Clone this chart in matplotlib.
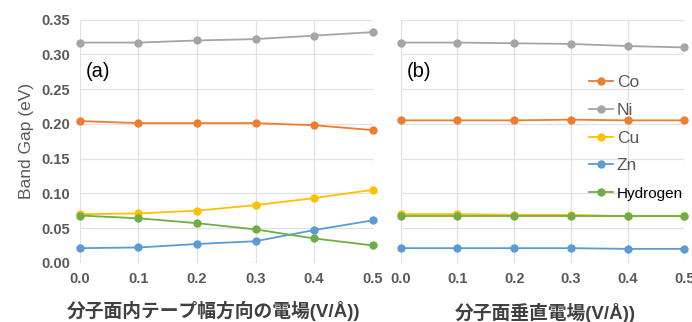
import numpy as np
import matplotlib
matplotlib.use("Agg")
import matplotlib.pyplot as plt

plt.rcParams['font.family'] = ['Liberation Sans', 'Noto Sans CJK JP']

field = [0.0, 0.1, 0.2, 0.3, 0.4, 0.5]
names = ["Co", "Ni", "Cu", "Zn", "Hydrogen"]
colors = ["#ED7D31", "#A5A5A5", "#FFC000", "#5B9BD5", "#70AD47"]

# (a) 分子面内テープ幅方向の電場
a_co = [0.204, 0.201, 0.201, 0.201, 0.198, 0.191]
a_ni = [0.317, 0.317, 0.320, 0.322, 0.327, 0.332]
a_cu = [0.070, 0.071, 0.075, 0.083, 0.093, 0.105]
a_zn = [0.021, 0.022, 0.027, 0.031, 0.047, 0.061]
a_h = [0.068, 0.064, 0.057, 0.048, 0.035, 0.025]

# (b) 分子面垂直電場
b_co = [0.205, 0.205, 0.205, 0.206, 0.205, 0.205]
b_ni = [0.317, 0.317, 0.316, 0.315, 0.312, 0.310]
b_cu = [0.070, 0.070, 0.069, 0.069, 0.067, 0.067]
b_zn = [0.021, 0.021, 0.021, 0.021, 0.020, 0.020]
b_h = [0.068, 0.068, 0.068, 0.068, 0.068, 0.068]

panel_a = [a_co, a_ni, a_cu, a_zn, a_h]
panel_b = [b_co, b_ni, b_cu, b_zn, b_h]

fig = plt.figure(figsize=(6.92, 3.22), dpi=100)
ax1 = fig.add_axes([0.1156, 0.184, 0.4227, 0.755])
ax2 = fig.add_axes([0.579, 0.184, 0.410, 0.755])

tick_color = "#595959"
for ax, data in [(ax1, panel_a), (ax2, panel_b)]:
    for name, col, ys in zip(names, colors, data):
        ax.plot(field, ys, "-o", color=col, lw=1.3, ms=5, label=name, clip_on=False, zorder=3)
    ax.set_xlim(0, 0.5)
    ax.set_ylim(0, 0.35)
    ax.set_xticks(np.arange(0, 0.51, 0.1))
    ax.set_yticks(np.arange(0, 0.351, 0.05))
    ax.grid(True, color="#e2e2e2", lw=0.9)
    ax.set_axisbelow(True)
    for s in ax.spines.values():
        s.set_visible(False)
    ax.tick_params(length=0, pad=7, colors=tick_color, labelsize=10.5)
    ax.set_xticklabels([f"{v:.1f}" for v in field], fontweight="bold")

ax1.set_yticklabels([f"{v:.2f}" for v in np.arange(0, 0.351, 0.05)], fontweight="bold")
ax2.set_yticklabels([])
ax1.set_ylabel("Band Gap (eV)", color=tick_color, fontsize=12.5, labelpad=5)

ax1.set_xlabel("分子面内テープ幅方向の電場(V/Å))", fontsize=13.5, fontweight="bold",
               color="#404040")
ax2.set_xlabel("分子面垂直電場(V/Å))", fontsize=13.5, fontweight="bold",
               color="#404040")
ax1.xaxis.set_label_coords(0.455, -0.155)
ax2.xaxis.set_label_coords(0.509, -0.165)

ax1.text(0.01, 0.267, "(a)", fontsize=14.5, color="black")
ax2.text(0.01, 0.267, "(b)", fontsize=14.5, color="black")

leg = ax2.legend(loc="upper left", bbox_to_anchor=(0.64, 0.80), frameon=False,
                 fontsize=12.5, labelspacing=0.72, handlelength=1.4,
                 handletextpad=0.2, borderaxespad=0)
for t in leg.get_texts():
    t.set_color(tick_color)
leg.get_texts()[-1].set_color("black")
leg.get_texts()[-1].set_fontsize(11)

fig.savefig("out.png", dpi=100)
